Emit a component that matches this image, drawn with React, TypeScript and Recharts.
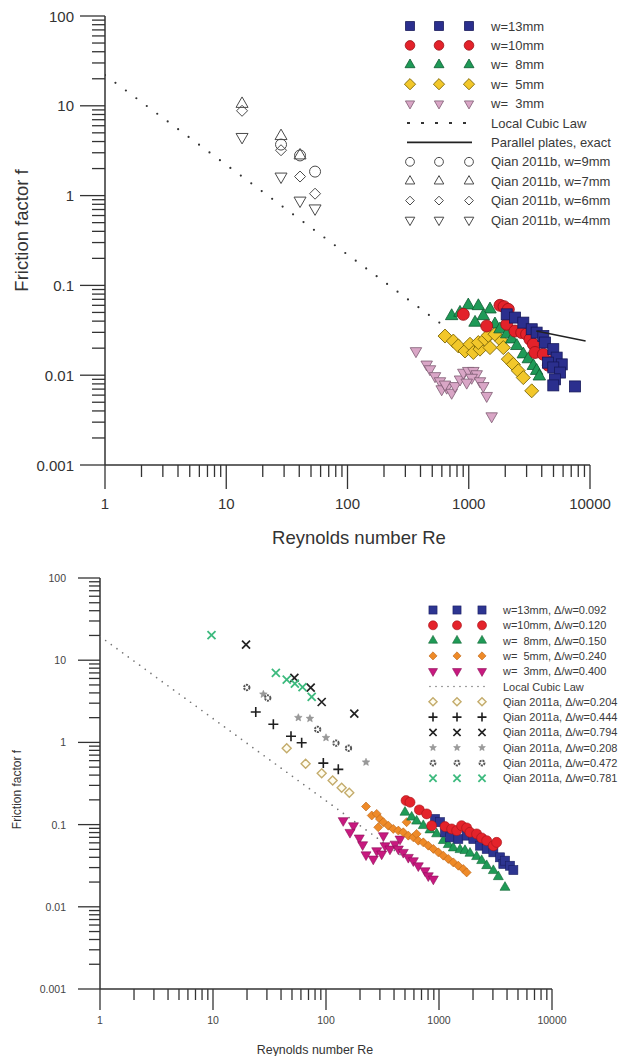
import { Label, Legend, Scatter, ScatterChart, XAxis, YAxis } from 'recharts';

type Pt = [number, number];
type Kind = 'square' | 'circle' | 'triUp' | 'triDown' | 'diamond' | 'plus' | 'cross' | 'star' | 'gear' | 'none';

interface MarkStyle {
  kind: Kind;
  size: number;
  fill: string;
  stroke: string;
  sw: number;
}

const FONT = '"Liberation Sans", Arial, Helvetica, sans-serif';

// ---- axes ----
const xDecades = [1, 10, 100, 1000, 10000];
const yDecades = [0.001, 0.01, 0.1, 1, 10, 100];
const minorSteps = [1, 2, 3, 4, 5, 6, 7, 8, 9];

// ---- top chart (Qian 2011b comparison) ----
const topW13: Pt[] = [
  [2056, 0.0476], [2406, 0.0438], [2818, 0.0385], [3306, 0.0325], [3630, 0.0298], [4120, 0.0273],
  [4253, 0.0231], [4980, 0.0195], [5310, 0.0157], [5850, 0.0132], [4500, 0.0138], [4980, 0.0122],
  [5660, 0.0107], [5140, 0.009], [4980, 0.0077], [7520, 0.0075],
];
const topW10: Pt[] = [
  [902, 0.0476], [1810, 0.06], [1954, 0.058], [2120, 0.0541], [1406, 0.0353], [2056, 0.0369],
  [2406, 0.031], [2734, 0.0298], [3000, 0.0286], [3200, 0.0251], [3410, 0.0221], [3520, 0.0179],
  [4120, 0.0171], [4980, 0.0144], [4530, 0.0129],
];
const topW8: Pt[] = [
  [723, 0.0456], [847, 0.0497], [991, 0.06], [1200, 0.0589], [1497, 0.0541], [1318, 0.0456],
  [1127, 0.0385], [1645, 0.0369], [1810, 0.0325], [2056, 0.0286], [2260, 0.0251], [2490, 0.0212],
  [2818, 0.0171], [3100, 0.0151], [3410, 0.0127], [3630, 0.0112], [3820, 0.0097],
];
const topW5: Pt[] = [
  [637, 0.0273], [746, 0.024], [820, 0.0212], [931, 0.0186], [1024, 0.0221], [1091, 0.0179],
  [1238, 0.0195], [1200, 0.0231], [1361, 0.0251], [1497, 0.0203], [1449, 0.0278], [1645, 0.0286],
  [1870, 0.024], [1928, 0.0203], [2120, 0.0151], [2333, 0.0132], [2563, 0.0112], [2818, 0.0094],
  [3306, 0.0067],
];
const topW3: Pt[] = [
  [367, 0.0186], [450, 0.0132], [479, 0.0117], [527, 0.0098], [579, 0.0086], [598, 0.007],
  [658, 0.0073], [723, 0.0064], [770, 0.0076], [847, 0.009], [902, 0.0107], [991, 0.0112],
  [1091, 0.0112], [1163, 0.0103], [1057, 0.0094], [1238, 0.0086], [1318, 0.0076], [1406, 0.0059],
  [962, 0.0083], [637, 0.0079], [1545, 0.0035],
];
const qianB9: Pt[] = [[28.3, 3.7], [40.6, 2.8], [54, 1.85]];
const qianB7: Pt[] = [[13.5, 10.5], [28.3, 4.6], [40.6, 2.8]];
const qianB6: Pt[] = [[13.5, 8.8], [28.3, 3.2], [40.6, 1.63], [54, 1.05]];
const qianB4: Pt[] = [[13.5, 4.5], [28.3, 1.63], [40.6, 0.88], [54, 0.72]];
const cubicTop: Pt[] = [[1, 22], [600, 0.0367]];
const plates: Pt[] = [[3600, 0.031], [9200, 0.024]];

const topLabels = [
  'w=13mm', 'w=10mm', 'w=  8mm', 'w=  5mm', 'w=  3mm', 'Local Cubic Law', 'Parallel plates, exact',
  'Qian 2011b, w=9mm', 'Qian 2011b, w=7mm', 'Qian 2011b, w=6mm', 'Qian 2011b, w=4mm',
];

// ---- bottom chart (Qian 2011a comparison) ----
const botW13: Pt[] = [
  [922, 0.117], [1020, 0.107], [1130, 0.0806], [1250, 0.07], [1482, 0.0668], [1757, 0.0734],
  [2013, 0.0668], [2306, 0.0554], [2643, 0.0506], [3027, 0.046], [3467, 0.04], [3708, 0.0332],
  [3837, 0.0364], [4250, 0.0316], [4550, 0.028],
];
const botW10: Pt[] = [
  [511, 0.196], [554, 0.187], [670, 0.151], [778, 0.135], [861, 0.097], [1130, 0.0946],
  [1295, 0.0886], [1435, 0.0845], [1585, 0.097], [1757, 0.0912], [1880, 0.0806], [2152, 0.0771],
  [2386, 0.0689], [2643, 0.0638], [3027, 0.0554], [3237, 0.0608],
];
const botW8: Pt[] = [
  [500, 0.141], [573, 0.123], [634, 0.11], [726, 0.097], [832, 0.086], [953, 0.0771],
  [1092, 0.0638], [1208, 0.057], [1339, 0.0519], [1535, 0.0495], [1698, 0.0482], [1880, 0.0447],
  [2152, 0.0407], [2386, 0.0364], [2643, 0.0316], [3027, 0.0275], [3350, 0.0232], [3837, 0.0172],
];
const botW5: Pt[] = [
  [226, 0.166], [254, 0.129], [281, 0.135], [300, 0.117], [322, 0.107], [290, 0.0927],
  [356, 0.097], [394, 0.0886], [437, 0.0845], [483, 0.0806], [517, 0.107], [535, 0.0734],
  [593, 0.07], [634, 0.0771], [656, 0.0638], [726, 0.0608], [804, 0.0554], [891, 0.0506],
  [986, 0.046], [1092, 0.0419], [1208, 0.0382], [1339, 0.0347], [1482, 0.0316], [1640, 0.0288],
  [1757, 0.0262],
];
const botW3: Pt[] = [
  [142, 0.112], [175, 0.097], [163, 0.0806], [197, 0.0689], [211, 0.057], [226, 0.043],
  [262, 0.0382], [281, 0.0482], [311, 0.044], [333, 0.0554], [368, 0.0506], [408, 0.058],
  [452, 0.0668], [437, 0.0506], [483, 0.046], [535, 0.04], [593, 0.0364], [656, 0.0316],
  [752, 0.0275], [804, 0.0239], [891, 0.0218], [322, 0.0734],
];
const qianA204: Pt[] = [[44.9, 0.85], [66, 0.55], [91.6, 0.42], [114.5, 0.344], [137.6, 0.28], [160.7, 0.244]];
const qianA444: Pt[] = [[23.9, 2.34], [34.2, 1.66], [49, 1.19], [60.9, 0.99], [94.7, 0.56], [128.5, 0.47]];
const qianA794: Pt[] = [[19.6, 15.5], [52.5, 6.1], [73.2, 4.65], [91.6, 3.1], [178, 2.24]];
const qianA208: Pt[] = [[27.9, 3.85], [56.9, 2.0], [72.1, 1.95], [100, 1.14], [226, 0.575]];
const qianA472: Pt[] = [[19.9, 4.65], [30.5, 3.47], [84.3, 1.44], [122.5, 0.98], [158, 0.85]];
const qianA781: Pt[] = [[9.7, 20.2], [36, 7.0], [44.9, 5.8], [53, 5.2], [62, 4.7], [74.7, 3.57]];
const cubicBot: Pt[] = [[1, 19.5], [500, 0.039]];

const botLabels = [
  'w=13mm, Δ/w=0.092', 'w=10mm, Δ/w=0.120', 'w=  8mm, Δ/w=0.150', 'w=  5mm, Δ/w=0.240',
  'w=  3mm, Δ/w=0.400', 'Local Cubic Law', 'Qian 2011a, Δ/w=0.204', 'Qian 2011a, Δ/w=0.444',
  'Qian 2011a, Δ/w=0.794', 'Qian 2011a, Δ/w=0.208', 'Qian 2011a, Δ/w=0.472', 'Qian 2011a, Δ/w=0.781',
];

const pts = (arr: Pt[]) => arr.map(([x, y]) => ({ x, y }));
const spread = (decades: number[]) =>
  decades.flatMap((d, i) => (i === decades.length - 1 ? [d] : minorSteps.map((m) => +(m * d).toPrecision(3))));
const xTicks = spread(xDecades);
const yTicks = spread(yDecades);
const isDecade = (v: number) => Math.abs(Math.log10(v) - Math.round(Math.log10(v))) < 1e-6;
const fmt = (v: number) => (v >= 1 ? String(Math.round(v)) : String(+v.toPrecision(1)));

function Mark({ cx, cy, s }: { cx: number; cy: number; s: MarkStyle }) {
  const r = s.size / 2;
  const common = { fill: s.fill, stroke: s.stroke, strokeWidth: s.sw };
  const h = s.size * 0.87;
  switch (s.kind) {
    case 'square':
      return <rect x={cx - r} y={cy - r} width={s.size} height={s.size} {...common} />;
    case 'circle':
      return <circle cx={cx} cy={cy} r={r} {...common} />;
    case 'triUp':
      return <polygon points={`${cx},${cy - (h * 2) / 3} ${cx + r},${cy + h / 3} ${cx - r},${cy + h / 3}`} {...common} />;
    case 'triDown':
      return <polygon points={`${cx},${cy + (h * 2) / 3} ${cx + r},${cy - h / 3} ${cx - r},${cy - h / 3}`} {...common} />;
    case 'diamond':
      return <polygon points={`${cx},${cy - r} ${cx + r},${cy} ${cx},${cy + r} ${cx - r},${cy}`} {...common} />;
    case 'plus':
      return <path d={`M${cx - r},${cy}H${cx + r}M${cx},${cy - r}V${cy + r}`} {...common} fill="none" />;
    case 'cross':
      return <path d={`M${cx - r},${cy - r}L${cx + r},${cy + r}M${cx + r},${cy - r}L${cx - r},${cy + r}`} {...common} fill="none" />;
    case 'star': {
      const p: string[] = [];
      for (let i = 0; i < 10; i++) {
        const rr = i % 2 === 0 ? r : r * 0.45;
        const a = -Math.PI / 2 + (i * Math.PI) / 5;
        p.push(`${cx + rr * Math.cos(a)},${cy + rr * Math.sin(a)}`);
      }
      return <polygon points={p.join(' ')} {...common} />;
    }
    case 'gear':
      return <circle cx={cx} cy={cy} r={r * 0.6} {...common} strokeDasharray="2 0.9" />;
    default:
      return <g />;
  }
}

const shape = (s: MarkStyle) => (p: any) => <Mark cx={p.cx} cy={p.cy} s={s} />;
const noMark = () => <g />;

// marker styles
const tBlue: MarkStyle = { kind: 'square', size: 11, fill: '#2b2f8e', stroke: '#16185a', sw: 0.8 };
const tRed: MarkStyle = { kind: 'circle', size: 12, fill: '#e3222a', stroke: '#9a1015', sw: 0.8 };
const tGreen: MarkStyle = { kind: 'triUp', size: 12.5, fill: '#1e9a57', stroke: '#0e5c31', sw: 0.8 };
const tYellow: MarkStyle = { kind: 'diamond', size: 14, fill: '#f2c72a', stroke: '#7d6608', sw: 0.9 };
const tPink: MarkStyle = { kind: 'triDown', size: 11.5, fill: '#d9a6c6', stroke: '#7e5c72', sw: 0.8 };
const tQ9: MarkStyle = { kind: 'circle', size: 11, fill: 'none', stroke: '#4a4a4a', sw: 1 };
const tQ7: MarkStyle = { kind: 'triUp', size: 12, fill: 'none', stroke: '#4a4a4a', sw: 1 };
const tQ6: MarkStyle = { kind: 'diamond', size: 11, fill: 'none', stroke: '#4a4a4a', sw: 1 };
const tQ4: MarkStyle = { kind: 'triDown', size: 12, fill: 'none', stroke: '#4a4a4a', sw: 1 };

const bBlue: MarkStyle = { kind: 'square', size: 9, fill: '#2d3591', stroke: '#1a1f63', sw: 0.6 };
const bRed: MarkStyle = { kind: 'circle', size: 10, fill: '#e4232b', stroke: '#a3141a', sw: 0.6 };
const bGreen: MarkStyle = { kind: 'triUp', size: 10, fill: '#1f9a56', stroke: '#106636', sw: 0.6 };
const bOrange: MarkStyle = { kind: 'diamond', size: 9, fill: '#ee8a28', stroke: '#b8641a', sw: 0.6 };
const bMagenta: MarkStyle = { kind: 'triDown', size: 10, fill: '#c8197f', stroke: '#8c0f58', sw: 0.6 };
const bQ204: MarkStyle = { kind: 'diamond', size: 9, fill: '#fffdf0', stroke: '#c4ac6c', sw: 1.4 };
const bQ444: MarkStyle = { kind: 'plus', size: 10, fill: 'none', stroke: '#1e1e1e', sw: 1.6 };
const bQ794: MarkStyle = { kind: 'cross', size: 8, fill: 'none', stroke: '#222', sw: 1.7 };
const bQ208: MarkStyle = { kind: 'star', size: 8, fill: '#999', stroke: '#888', sw: 0.5 };
const bQ472: MarkStyle = { kind: 'gear', size: 9, fill: '#fff', stroke: '#555', sw: 2 };
const bQ781: MarkStyle = { kind: 'cross', size: 8, fill: 'none', stroke: '#3dba7e', sw: 1.8 };

const topMarks: (MarkStyle | null)[] = [tBlue, tRed, tGreen, tYellow, tPink, null, null, tQ9, tQ7, tQ6, tQ4];
const botMarks: (MarkStyle | null)[] = [bBlue, bRed, bGreen, bOrange, bMagenta, null, bQ204, bQ444, bQ794, bQ208, bQ472, bQ781];

interface AxisLook {
  major: number;
  minor: number;
  labelGap: number;
  fontSize: number;
  color: string;
}

const makeXTick = (a: AxisLook) => (p: any) => {
  const v = p.payload?.value as number;
  const dec = isDecade(v);
  return (
    <g>
      <line x1={p.x} x2={p.x} y1={p.y} y2={p.y + (dec ? a.major : a.minor)} stroke="#333" strokeWidth={1.3} />
      {dec && (
        <text x={p.x} y={p.y + a.labelGap} textAnchor="middle" dominantBaseline="central"
          fontSize={a.fontSize} fill={a.color} fontFamily={FONT}>
          {fmt(v)}
        </text>
      )}
    </g>
  );
};

const makeYTick = (a: AxisLook) => (p: any) => {
  const v = p.payload?.value as number;
  const dec = isDecade(v);
  return (
    <g>
      <line x1={p.x - (dec ? a.major : a.minor)} x2={p.x} y1={p.y} y2={p.y} stroke="#333" strokeWidth={1.3} />
      {dec && (
        <text x={p.x - a.labelGap} y={p.y} textAnchor="end" dominantBaseline="central"
          fontSize={a.fontSize} fill={a.color} fontFamily={FONT}>
          {fmt(v)}
        </text>
      )}
    </g>
  );
};

const xTitle = (text: string, dx: number, dy: number, size: number) => (p: any) => {
  const vb = p.viewBox ?? { x: 0, y: 0, width: 0, height: 0 };
  return (
    <text x={vb.x + vb.width / 2 + dx} y={vb.y + dy} textAnchor="middle" dominantBaseline="central"
      fontSize={size} fill="#333" fontFamily={FONT}>
      {text}
    </text>
  );
};

const yTitle = (text: string, left: number, dy: number, size: number) => (p: any) => {
  const vb = p.viewBox ?? { x: 0, y: 0, width: 0, height: 0 };
  const cx = vb.x + left;
  const cy = vb.y + vb.height / 2 + dy;
  return (
    <text x={cx} y={cy} transform={`rotate(-90 ${cx} ${cy})`} textAnchor="middle" dominantBaseline="central"
      fontSize={size} fill="#333" fontFamily={FONT}>
      {text}
    </text>
  );
};

interface LegendLook {
  cols: number[];
  textX: number;
  y0: number;
  dy: number;
  fontSize: number;
  scale: number;
  height: number;
}

function LegendBox({ labels, marks, look, lines }: {
  labels: string[];
  marks: (MarkStyle | null)[];
  look: LegendLook;
  lines: Record<number, { dash?: string; color: string; width: number; cap?: 'round' | 'butt' }>;
}) {
  const first = look.cols[0] - 3;
  const last = look.cols[look.cols.length - 1] + 3;
  return (
    <svg width={623} height={look.height} style={{ display: 'block', overflow: 'visible' }}>
      {labels.map((lab, i) => {
        const y = look.y0 + i * look.dy;
        const m = marks[i];
        const ln = lines[i];
        return (
          <g key={lab}>
            {m && look.cols.map((cx) => <Mark key={cx} cx={cx} cy={y} s={{ ...m, size: m.size * look.scale }} />)}
            {ln && (
              <line x1={first} x2={last} y1={y} y2={y} stroke={ln.color} strokeWidth={ln.width}
                strokeDasharray={ln.dash} strokeLinecap={ln.cap ?? 'butt'} />
            )}
            <text x={look.textX} y={y} dominantBaseline="central" fontSize={look.fontSize} fill="#3a3a3a"
              fontFamily={FONT} style={{ whiteSpace: 'pre' }}>
              {lab}
            </text>
          </g>
        );
      })}
    </svg>
  );
}

const topAxis: AxisLook = { major: 24, minor: 12, labelGap: 38, fontSize: 15, color: '#333' };
const topYAxis: AxisLook = { major: 25, minor: 13, labelGap: 31, fontSize: 15, color: '#333' };
const botAxis: AxisLook = { major: 21, minor: 11, labelGap: 31, fontSize: 10.5, color: '#444' };
const botYAxis: AxisLook = { major: 22, minor: 11, labelGap: 34, fontSize: 10.5, color: '#444' };

const topLegend: LegendLook = { cols: [410, 439, 469], textX: 491, y0: 26, dy: 19.4, fontSize: 13, scale: 0.8, height: 240 };
const botLegend: LegendLook = { cols: [433, 457, 482], textX: 503, y0: 50, dy: 15.3, fontSize: 11, scale: 0.9, height: 230 };

export default function App() {
  const axisLine = { stroke: '#333', strokeWidth: 1.5 };
  return (
    <div style={{ position: 'absolute', left: 0, top: 0, width: 623, height: 1056, background: '#fff', fontFamily: FONT }}>
      <div style={{ position: 'absolute', left: 0, top: 0 }}>
        <ScatterChart width={623} height={555} margin={{ top: 16, right: 33, bottom: 0, left: 0 }}>
          <XAxis dataKey="x" type="number" scale="log" domain={[1, 10000]} allowDataOverflow ticks={xTicks}
            interval={0} tickSize={0} tickMargin={0} tickLine={false} axisLine={axisLine}
            tick={makeXTick(topAxis)} height={90}>
            <Label content={xTitle('Reynolds number Re', 11.5, 72, 18.5)} />
          </XAxis>
          <YAxis dataKey="y" type="number" scale="log" domain={[0.001, 100]} allowDataOverflow ticks={yTicks}
            interval={0} tickSize={0} tickMargin={0} tickLine={false} axisLine={axisLine}
            tick={makeYTick(topYAxis)} width={105}>
            <Label content={yTitle('Friction factor f', 21, -10, 18.5)} />
          </YAxis>
          <Scatter data={pts(cubicTop)} shape={noMark} isAnimationActive={false}
            line={{ stroke: '#333', strokeWidth: 2.2, strokeDasharray: '0 13', strokeLinecap: 'round' }} />
          <Scatter data={pts(qianB9)} shape={shape(tQ9)} isAnimationActive={false} />
          <Scatter data={pts(qianB7)} shape={shape(tQ7)} isAnimationActive={false} />
          <Scatter data={pts(qianB6)} shape={shape(tQ6)} isAnimationActive={false} />
          <Scatter data={pts(qianB4)} shape={shape(tQ4)} isAnimationActive={false} />
          <Scatter data={pts(topW3)} shape={shape(tPink)} isAnimationActive={false} />
          <Scatter data={pts(topW5)} shape={shape(tYellow)} isAnimationActive={false} />
          <Scatter data={pts(topW8)} shape={shape(tGreen)} isAnimationActive={false} />
          <Scatter data={pts(topW10)} shape={shape(tRed)} isAnimationActive={false} />
          <Scatter data={pts(topW13)} shape={shape(tBlue)} isAnimationActive={false} />
          <Scatter data={pts(plates)} shape={noMark} isAnimationActive={false}
            line={{ stroke: '#222', strokeWidth: 1.6 }} />
          <Legend layout="vertical" align="center" verticalAlign="middle"
            wrapperStyle={{ left: 0, top: 0, width: 623, pointerEvents: 'none' }}
            content={() => (
              <LegendBox labels={topLabels} marks={topMarks} look={topLegend}
                lines={{ 5: { dash: '3 11', color: '#333', width: 1.8 }, 6: { color: '#222', width: 1.8 } }} />
            )} />
        </ScatterChart>
      </div>
      <div style={{ position: 'absolute', left: 0, top: 560 }}>
        <ScatterChart width={623} height={496} margin={{ top: 18, right: 71, bottom: 0, left: 0 }}>
          <XAxis dataKey="x" type="number" scale="log" domain={[1, 10000]} allowDataOverflow ticks={xTicks}
            interval={0} tickSize={0} tickMargin={0} tickLine={false} axisLine={axisLine}
            tick={makeXTick(botAxis)} height={67}>
            <Label content={xTitle('Reynolds number Re', -11, 61, 12.4)} />
          </XAxis>
          <YAxis dataKey="y" type="number" scale="log" domain={[0.001, 100]} allowDataOverflow ticks={yTicks}
            interval={0} tickSize={0} tickMargin={0} tickLine={false} axisLine={axisLine}
            tick={makeYTick(botYAxis)} width={100}>
            <Label content={yTitle('Friction factor f', 17, 6, 12)} />
          </YAxis>
          <Scatter data={pts(cubicBot)} shape={noMark} isAnimationActive={false}
            line={{ stroke: '#777', strokeWidth: 1.7, strokeDasharray: '0 7', strokeLinecap: 'round' }} />
          <Scatter data={pts(qianA204)} shape={shape(bQ204)} isAnimationActive={false} />
          <Scatter data={pts(qianA444)} shape={shape(bQ444)} isAnimationActive={false} />
          <Scatter data={pts(qianA794)} shape={shape(bQ794)} isAnimationActive={false} />
          <Scatter data={pts(qianA208)} shape={shape(bQ208)} isAnimationActive={false} />
          <Scatter data={pts(qianA472)} shape={shape(bQ472)} isAnimationActive={false} />
          <Scatter data={pts(qianA781)} shape={shape(bQ781)} isAnimationActive={false} />
          <Scatter data={pts(botW3)} shape={shape(bMagenta)} isAnimationActive={false} />
          <Scatter data={pts(botW5)} shape={shape(bOrange)} isAnimationActive={false} />
          <Scatter data={pts(botW8)} shape={shape(bGreen)} isAnimationActive={false} />
          <Scatter data={pts(botW13)} shape={shape(bBlue)} isAnimationActive={false} />
          <Scatter data={pts(botW10)} shape={shape(bRed)} isAnimationActive={false} />
          <Legend layout="vertical" align="center" verticalAlign="middle"
            wrapperStyle={{ left: 0, top: 0, width: 623, pointerEvents: 'none' }}
            content={() => (
              <LegendBox labels={botLabels} marks={botMarks} look={botLegend}
                lines={{ 5: { dash: '0 6', color: '#777', width: 1.6, cap: 'round' } }} />
            )} />
        </ScatterChart>
      </div>
    </div>
  );
}
